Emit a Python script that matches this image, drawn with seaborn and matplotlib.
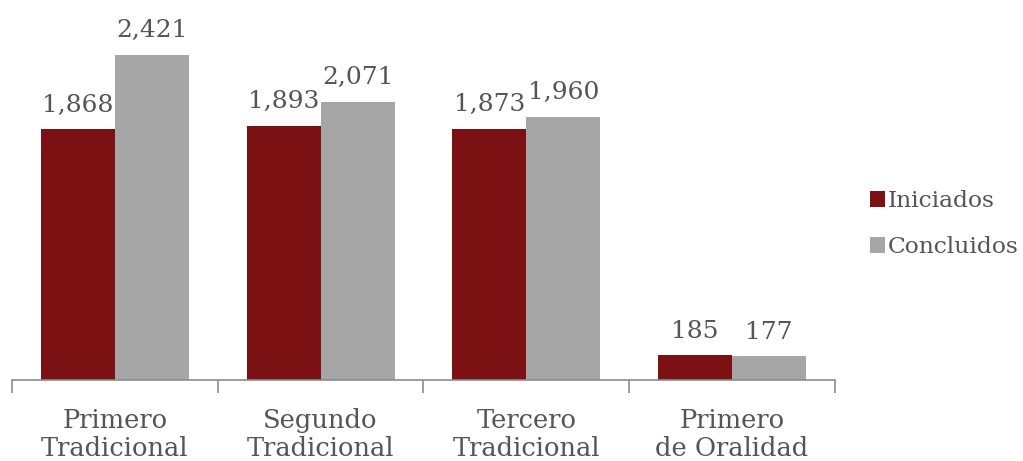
import pandas as pd
import matplotlib.pyplot as plt
import seaborn as sns

categories = ['Primero\nTradicional', 'Segundo\nTradicional', 'Tercero\nTradicional', 'Primero\nde Oralidad']
iniciados = [1868, 1893, 1873, 185]
concluidos = [2421, 2071, 1960, 177]

df = pd.DataFrame({
    'grado': categories * 2,
    'valor': iniciados + concluidos,
    'serie': ['Iniciados'] * 4 + ['Concluidos'] * 4,
})

sns.set_style('white')
plt.rcParams['font.family'] = ['DejaVu Serif']
text_color = '#555555'

fig = plt.figure(figsize=(10.23, 4.61), dpi=100)
ax = fig.add_axes([12 / 1023, 81 / 461, 823 / 1023, 380 / 461])

sns.barplot(data=df, x='grado', y='valor', hue='serie', ax=ax,
            palette=['#7B1113', '#A6A6A6'], width=0.72, gap=0,
            saturation=1, edgecolor='none')

for container in ax.containers:
    ax.bar_label(container, labels=[f'{v:,.0f}' for v in container.datavalues],
                 padding=9, fontsize=18, color=text_color)

ax.set_ylim(0, 2830)
ax.set_xlim(-0.5, 3.5)
ax.set_xlabel('')
ax.set_ylabel('')
ax.set_yticks([])
ax.tick_params(axis='x', which='major', length=0, labelsize=18.5, labelcolor=text_color, pad=20)
ax.set_xticks([-0.5, 0.5, 1.5, 2.5, 3.5], minor=True)
ax.tick_params(axis='x', which='minor', bottom=True, length=9, width=1.2,
               color='#8c8c8c', direction='out')
for lbl in ax.get_xticklabels():
    lbl.set_linespacing(1.15)

for s in ['top', 'right', 'left']:
    ax.spines[s].set_visible(False)
ax.spines['bottom'].set_color('#8c8c8c')
ax.spines['bottom'].set_linewidth(1.2)

ax.legend(loc='center left', bbox_to_anchor=(1.017, 0.41), frameon=False,
          fontsize=16.8, labelcolor=text_color, handlelength=0.65, handleheight=0.65,
          handletextpad=0.12, labelspacing=1.05)

fig.savefig('out.png', dpi=100)
